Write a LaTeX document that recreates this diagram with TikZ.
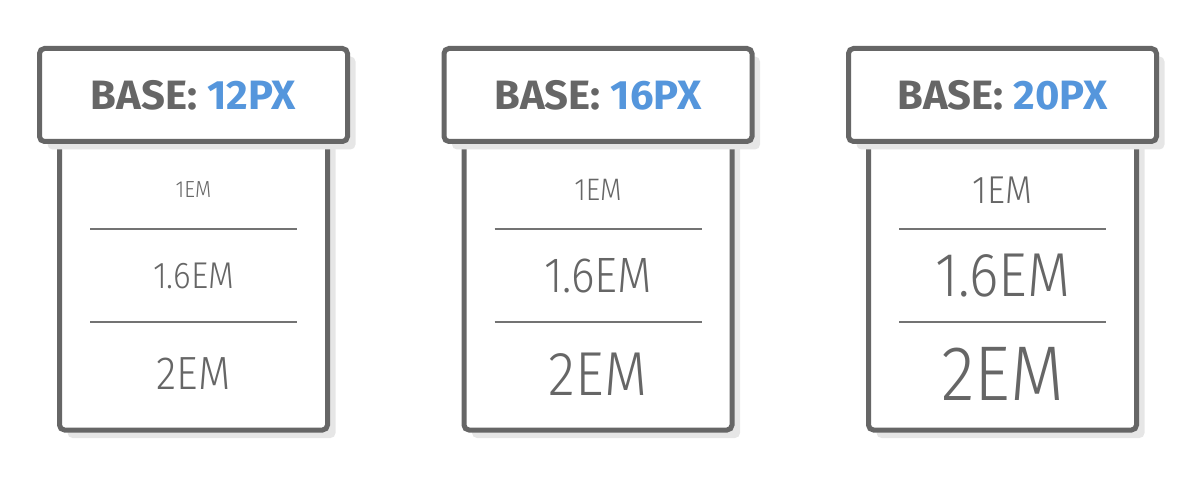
\documentclass[tikz,border=0pt]{standalone}
\usepackage{fontspec}
\usepackage{xcolor}
\usetikzlibrary{positioning,shadows}
\newfontfamily\emfont[FakeStretch=0.9, UprightFont=* Light]{Fira Sans}
\newfontfamily\basefont[FakeStretch=1.02]{Fira Sans}
\definecolor{boxgray}{RGB}{102,102,102}
\definecolor{pxblue}{RGB}{85,150,220}
\definecolor{shadowgray}{RGB}{230,230,230}
\definecolor{rulegray}{RGB}{115,115,115}
\tikzset{
  boxbase/.style={draw=boxgray, line width=2.5pt, rounded corners=2.5pt, fill=white,
                  inner sep=0pt,
                  drop shadow={shadow xshift=4pt, shadow yshift=-4pt, fill=shadowgray, opacity=1}},
  headbox/.style={boxbase, minimum width=154pt, minimum height=46.5pt,
                  font=\basefont\bfseries\fontsize{20.5}{24}\selectfont, text=boxgray},
  bodybox/.style={boxbase, minimum width=134pt, minimum height=166.75pt, anchor=north},
  emlbl/.style={inner sep=0pt, text=boxgray},
  divider/.style={line width=1pt, rulegray}
}
\begin{document}
\begin{tikzpicture}[x=0.5pt,y=-0.5pt]
\useasboundingbox (0,0) rectangle (1200,486);
\foreach \i/\base in {0/12,1/16,2/20}{
  \pgfmathsetmacro{\cx}{193.5+404.5*\i}
  \pgfmathsetmacro{\sone}{0.97*\base}
  \pgfmathsetmacro{\stwo}{1.6*0.97*\base}
  \pgfmathsetmacro{\sthree}{2*0.97*\base}
  \node[bodybox] (body\i) at (\cx,94) {};
  \node[headbox] (head\i) at (\cx,95) {BASE: \textcolor{pxblue}{\base PX}};
  % sizes relative to the base
  \node[emlbl, font=\emfont\fontsize{\sone}{\sone}\selectfont] (one\i) at (\cx,190) {1EM};
  \node[emlbl, font=\emfont\fontsize{\stwo}{\stwo}\selectfont] (two\i) at (\cx,276) {1.6EM};
  \node[emlbl, font=\emfont\fontsize{\sthree}{\sthree}\selectfont] (three\i) at (\cx,374) {2EM};
  \draw[divider] (\cx-103.5,229) -- (\cx+103.5,229);
  \draw[divider] (\cx-103.5,322) -- (\cx+103.5,322);
}
\end{tikzpicture}
\end{document}
